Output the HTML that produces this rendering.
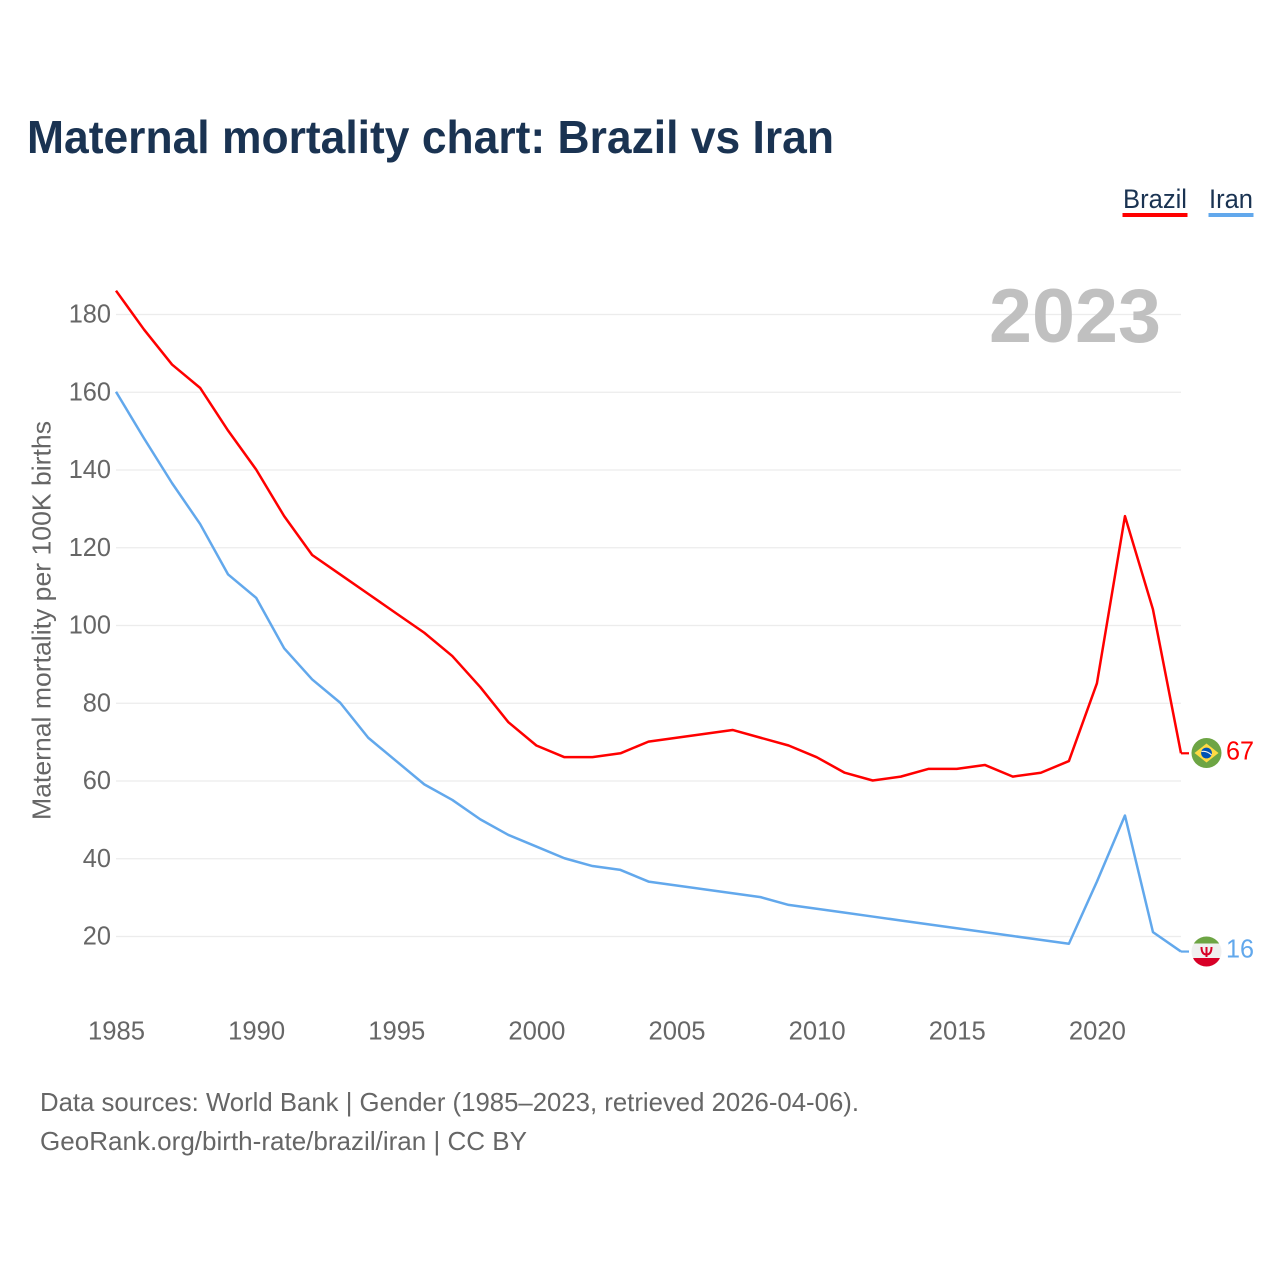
<!DOCTYPE html>
<html lang="en">
<head>
<meta charset="utf-8">
<title>Maternal mortality chart: Brazil vs Iran</title>
<style>
html,body{margin:0;padding:0;background:#fff;width:1280px;height:1280px;overflow:hidden}
svg{display:block}
text{font-family:"Liberation Sans",sans-serif}
</style>
</head>
<body>
<svg id="chart" xmlns="http://www.w3.org/2000/svg" width="1280" height="1280" viewBox="0 0 1280 1280">
  <defs>
    <clipPath id="flag-clip-iran"><circle cx="1206.5" cy="951.5" r="15"/></clipPath>
  </defs>
  <rect x="0" y="0" width="1280" height="1280" fill="#ffffff"/>
  <text x="27" y="153" font-size="46" font-weight="700" fill="#1a3352" textLength="807" lengthAdjust="spacingAndGlyphs">Maternal mortality chart: Brazil vs Iran</text>

  <g>
    <g>
      <text x="1123" y="208" font-size="27" fill="#1a3352" textLength="64" lengthAdjust="spacingAndGlyphs">Brazil</text>
      <rect x="1122.5" y="213" width="65" height="4" fill="#ff0000"/>
    </g>
    <g>
      <text x="1209" y="208" font-size="27" fill="#1a3352" textLength="44" lengthAdjust="spacingAndGlyphs">Iran</text>
      <rect x="1208.5" y="213" width="45" height="4" fill="#62a8ec"/>
    </g>
  </g>

  <g id="grid"></g>
  <text x="989" y="342" font-size="76" font-weight="700" fill="#c0c0c0" textLength="172" lengthAdjust="spacingAndGlyphs">2023</text>
  <g id="y-ticks"></g>
  <g id="x-ticks"></g>
  <text transform="translate(50.5 620.5) rotate(-90)" text-anchor="middle" font-size="26" fill="#666666" textLength="399" lengthAdjust="spacingAndGlyphs">Maternal mortality per 100K births</text>

  <path id="line-brazil" fill="none" stroke="#ff0000" stroke-width="2.5" stroke-linejoin="round"/>
  <path id="line-iran" fill="none" stroke="#62a8ec" stroke-width="2.5" stroke-linejoin="round"/>
  <path id="connector-brazil" fill="none" stroke="#ff0000" stroke-width="2.2"/>
  <path id="connector-iran" fill="none" stroke="#62a8ec" stroke-width="2.2"/>

  <g>
    <circle cx="1206.5" cy="753" r="15" fill="#6da544"/>
    <polygon points="1206.5,743.5 1218.5,753 1206.5,762.5 1194.5,753" fill="#ffda44"/>
    <circle cx="1206.5" cy="753" r="5.4" fill="#0052b4"/>
    <path d="M1201.5 751.5 Q1207 750.5 1211.5 755" fill="none" stroke="#f0f0f0" stroke-width="1.1"/>
  </g>
  <g clip-path="url(#flag-clip-iran)">
    <rect x="1191" y="936" width="31" height="31" fill="#f0f0f0"/>
    <rect x="1191" y="936" width="31" height="7.5" fill="#6da544"/>
    <rect x="1191" y="958" width="31" height="10" fill="#d80027"/>
    <path d="M1201.5 947 Q1201.5 954.5 1206.5 954.5 Q1211.5 954.5 1211.5 947 M1206.5 947 V957" fill="none" stroke="#d80027" stroke-width="2"/>
  </g>

  <text id="value-brazil" x="1226" y="759.5" font-size="26" fill="#ff0000" textLength="28" lengthAdjust="spacingAndGlyphs"></text>
  <text id="value-iran" x="1226" y="957.5" font-size="26" fill="#62a8ec" textLength="28" lengthAdjust="spacingAndGlyphs"></text>

  <text x="40" y="1111" font-size="26" fill="#666666" textLength="819" lengthAdjust="spacingAndGlyphs">Data sources: World Bank | Gender (1985–2023, retrieved 2026-04-06).</text>
  <text x="40" y="1150" font-size="26" fill="#666666" textLength="487" lengthAdjust="spacingAndGlyphs">GeoRank.org/birth-rate/brazil/iran | CC BY</text>
</svg>
<script>
const years = [1985,1986,1987,1988,1989,1990,1991,1992,1993,1994,1995,1996,1997,1998,1999,2000,2001,2002,2003,2004,2005,2006,2007,2008,2009,2010,2011,2012,2013,2014,2015,2016,2017,2018,2019,2020,2021,2022,2023];
const brazilValues = [186,176,167,161,150,140,128,118,113,108,103,98,92,84,75,69,66,66,67,70,71,72,73,71,69,66,62,60,61,63,63,64,61,62,65,85,128,104,67];
const iranValues = [160,148,136.5,126,113,107,94,86,80,71,65,59,55,50,46,43,40,38,37,34,33,32,31,30,28,27,26,25,24,23,22,21,20,19,18,34,51,21,16];
const yTickValues = [20,40,60,80,100,120,140,160,180];
const xTickValues = [1985,1990,1995,2000,2005,2010,2015,2020];

const SVG_NS = 'http://www.w3.org/2000/svg';
function xScale(year) { return 116 + (year - 1985) * (1181 - 116) / 38; }
function yScale(value) { return 936.5 - (value - 20) * (936.5 - 314.5) / 160; }

const gridGroup = document.getElementById('grid');
const yTickGroup = document.getElementById('y-ticks');
const xTickGroup = document.getElementById('x-ticks');

yTickValues.forEach(function (v) {
  const line = document.createElementNS(SVG_NS, 'line');
  
  
  line.setAttribute('x1', 116);
  line.setAttribute('x2', 1181);
  line.setAttribute('y1', yScale(v));
  line.setAttribute('y2', yScale(v));
  line.setAttribute('stroke', '#ececec');
  line.setAttribute('stroke-width', '1.3');
  gridGroup.appendChild(line);

  const label = document.createElementNS(SVG_NS, 'text');
  
  
  label.setAttribute('x', 111);
  label.setAttribute('y', yScale(v) + 8);
  label.setAttribute('text-anchor', 'end');
  label.setAttribute('font-size', '26');
  label.setAttribute('fill', '#666666');
  label.setAttribute('textLength', String(v).length * 14.1);
  label.setAttribute('lengthAdjust', 'spacingAndGlyphs');
  label.textContent = v;
  yTickGroup.appendChild(label);
});

xTickValues.forEach(function (y) {
  const label = document.createElementNS(SVG_NS, 'text');
  
  
  label.setAttribute('x', xScale(y) + 0.5);
  label.setAttribute('y', 1039.5);
  label.setAttribute('text-anchor', 'middle');
  label.setAttribute('font-size', '26');
  label.setAttribute('fill', '#666666');
  label.setAttribute('textLength', 57);
  label.setAttribute('lengthAdjust', 'spacingAndGlyphs');
  label.textContent = y;
  xTickGroup.appendChild(label);
});

function linePath(values) {
  return values.map(function (v, i) {
    return (i ? 'L' : 'M') + xScale(years[i]).toFixed(2) + ' ' + (yScale(v) - 0.5).toFixed(2);
  }).join(' ');
}
function connectorPath(values) {
  const last = values[values.length - 1];
  const lastYear = years[years.length - 1];
  const yy = (yScale(last) - 0.5).toFixed(2);
  return 'M' + xScale(lastYear).toFixed(2) + ' ' + yy + ' H1189';
}

document.getElementById('line-brazil').setAttribute('d', linePath(brazilValues));
document.getElementById('line-iran').setAttribute('d', linePath(iranValues));
document.getElementById('connector-brazil').setAttribute('d', connectorPath(brazilValues));
document.getElementById('connector-iran').setAttribute('d', connectorPath(iranValues));
document.getElementById('value-brazil').textContent = brazilValues[brazilValues.length - 1];
document.getElementById('value-iran').textContent = iranValues[iranValues.length - 1];
</script>
</body>
</html>
